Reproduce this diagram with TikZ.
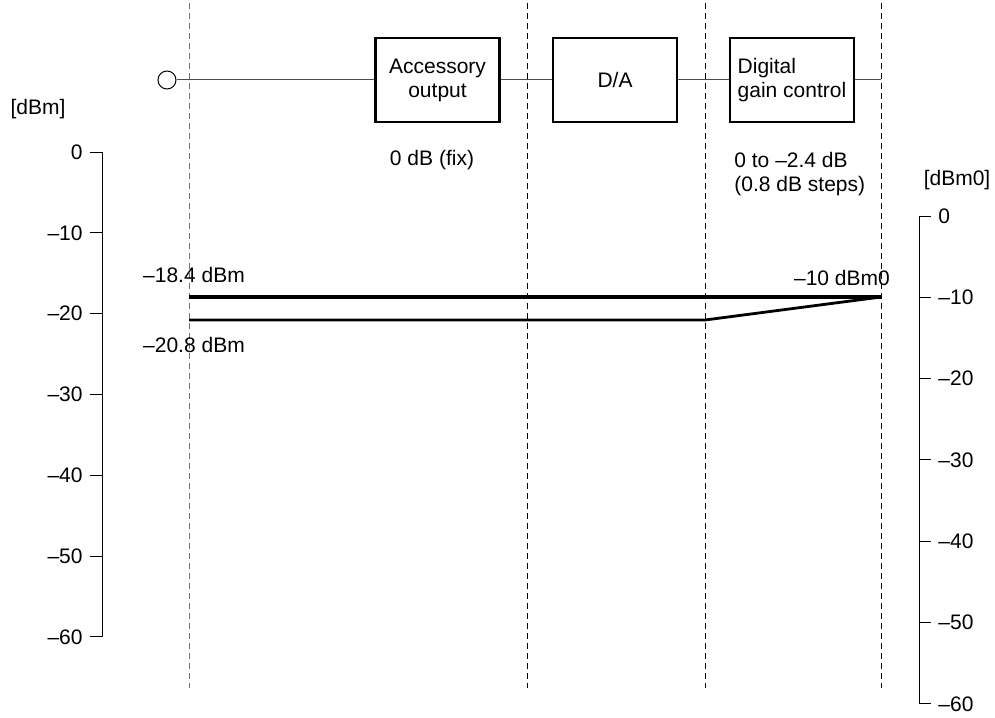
\documentclass[tikz,border=0pt]{standalone}
\usepackage{fontspec}
\setmainfont{Liberation Sans}
\usetikzlibrary{positioning}

\begin{document}
\begin{tikzpicture}[x=0.5pt, y=-0.5pt,
    every node/.style={font=\fontsize{10.5}{12}\selectfont, inner sep=0pt},
    blk/.style={draw, line width=1.2pt, minimum width=62pt, minimum height=42pt, align=center},
    guide/.style={line width=0.5pt, dash pattern=on 3pt off 2pt},
    sig/.style={line width=0.5pt, black!70},
    axis/.style={line width=0.5pt}]
  \useasboundingbox (0,0) rectangle (995,717);
  % signal chain
  \node[draw, circle, minimum size=9pt, line width=0.5pt] (inp) at (167,80) {};
  \node[blk] (acc) at (437.5,80) {Accessory\\output};
  \node[blk] (da) at (615,80) {D/A};
  \node[blk, align=left] (dgc) at (792,80) {Digital\\gain control};
  \coordinate (out) at (881,80);
  \draw[sig] (inp) -- (acc) (acc) -- (da) (da) -- (dgc) (dgc) -- (out);
  % stage boundaries
  \foreach \x/\n in {189/a,527/b,705/c,881/d} {
    \coordinate (top\n) at (\x,3);
    \coordinate (bot\n) at (\x,688);
  }
  \draw[guide, black!55] (topa) -- (bota);
  \draw[guide] (topb) -- (botb);
  \draw[guide] (topc) -- (botc);
  \draw[guide] (topd) -- (botd);
  % gain notes
  \node (fix) at (432,160) {0 dB (fix)};
  \node[anchor=west, align=left] (gain) at (734,174) {0 to --2.4 dB\\(0.8 dB steps)};
  % left scale [dBm]
  \node (unitL) at (38,109) {[dBm]};
  \draw[axis] (102,152) -- (102,637);
  \foreach \k/\t in {0/0,1/--10,2/--20,3/--30,4/--40,5/--50,6/--60} {
    \draw[axis] (90,152+80.8*\k) -- (102,152+80.8*\k);
    \node[anchor=east] at (83,152+80.8*\k) {\t};
  }
  % right scale [dBm0]
  \node (unitR) at (957,180) {[dBm0]};
  \draw[axis] (919,216) -- (919,704);
  \foreach \k/\t in {0/0,1/--10,2/--20,3/--30,4/--40,5/--50,6/--60} {
    \draw[axis] (919,216+81.3*\k) -- (931,216+81.3*\k);
    \node[anchor=west] at (938,216+81.3*\k) {\t};
  }
  % levels
  \coordinate (hiL) at (189,297);
  \coordinate (hiR) at (881,297);
  \coordinate (loL) at (189,320);
  \coordinate (loK) at (705,320);
  \draw[line width=2pt] (hiL) -- (hiR);
  \draw[line width=1.4pt] (loL) -- (loK) -- (hiR);
  \node (hiLab) at (194,275) {--18.4 dBm};
  \node (loLab) at (194,345) {--20.8 dBm};
  \node (outLab) at (842,278) {--10 dBm0};
\end{tikzpicture}
\end{document}
